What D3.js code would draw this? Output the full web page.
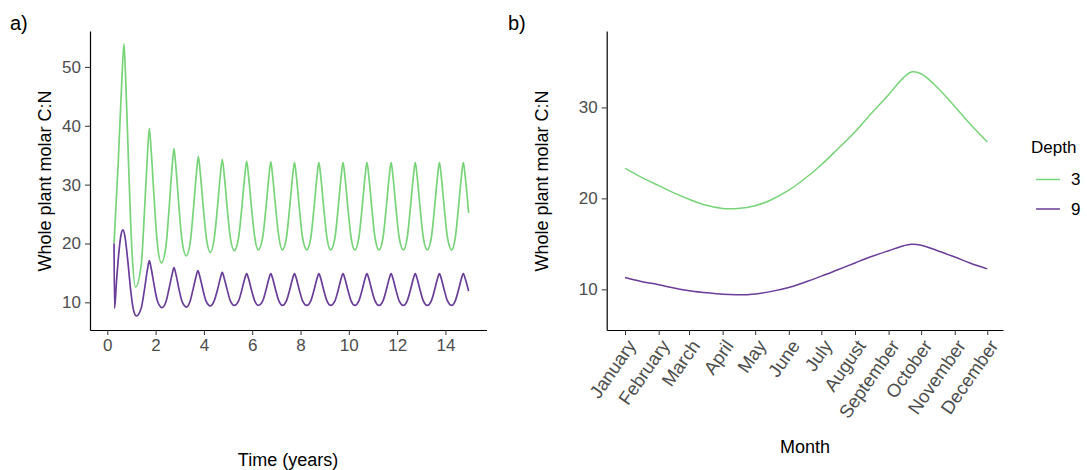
<!DOCTYPE html>
<html>
<head>
<meta charset="utf-8">
<style>
    body { margin: 0; background: #ffffff; }
    text { font-family: "Liberation Sans", Arial, sans-serif; }
    .tick text { fill: #4d4d4d; font-size: 17px; }
    .tick line { stroke: #333333; }
    .domain { stroke: #000000; stroke-width: 1.2px; }
</style>
</head>
<body>
<svg id="container" width="1087" height="470"></svg>

<script src="https://cdn.jsdelivr.net/npm/d3@7/dist/d3.min.js"></script>
<script>
    // panel a: time (years) vs whole plant C:N, [t, value]
    let depth3Years = [
        [0.28, 20.0], [0.45, 33.5], [0.60, 47.5], [0.69, 53.9], [0.77, 46.9], [0.89, 32.4], [1.02, 18.8], [1.17, 12.6],
        [1.41, 16.6], [1.54, 25.5], [1.66, 34.9], [1.74, 39.5], [1.82, 35.6], [1.94, 27.6], [2.07, 20.1], [2.24, 16.7],
        [2.43, 19.6], [2.56, 26.0], [2.68, 32.8], [2.76, 36.1], [2.84, 33.0], [2.96, 26.6], [3.09, 20.6], [3.27, 17.9],
        [3.44, 20.4], [3.57, 26.0], [3.69, 31.9], [3.77, 34.8], [3.85, 32.0], [3.97, 26.3], [4.10, 21.0], [4.27, 18.5],
        [4.43, 20.9], [4.56, 26.1], [4.68, 31.6], [4.76, 34.3], [4.84, 31.7], [4.96, 26.2], [5.09, 21.1], [5.26, 18.8],
        [5.44, 21.1], [5.57, 26.1], [5.69, 31.4], [5.77, 34.0], [5.85, 31.4], [5.97, 26.1], [6.10, 21.2], [6.25, 18.9],
        [6.44, 21.2], [6.57, 26.1], [6.69, 31.3], [6.77, 33.9], [6.85, 31.3], [6.97, 26.1], [7.10, 21.2], [7.25, 18.9],
        [7.42, 21.1], [7.55, 26.1], [7.67, 31.3], [7.75, 33.8], [7.83, 31.3], [7.95, 26.1], [8.08, 21.1], [8.26, 18.9],
        [8.43, 21.1], [8.56, 26.1], [8.68, 31.3], [8.76, 33.8], [8.84, 31.3], [8.96, 26.1], [9.09, 21.1], [9.25, 18.9],
        [9.43, 21.1], [9.56, 26.1], [9.68, 31.3], [9.76, 33.8], [9.84, 31.3], [9.96, 26.1], [10.09, 21.1], [10.25, 18.9],
        [10.42, 21.1], [10.55, 26.1], [10.67, 31.3], [10.75, 33.8], [10.83, 31.3], [10.95, 26.1], [11.08, 21.1], [11.25, 18.9],
        [11.42, 21.1], [11.55, 26.1], [11.67, 31.3], [11.75, 33.8], [11.83, 31.3], [11.95, 26.1], [12.08, 21.1], [12.26, 18.9],
        [12.42, 21.1], [12.55, 26.1], [12.67, 31.3], [12.75, 33.8], [12.83, 31.3], [12.95, 26.1], [13.08, 21.1], [13.25, 18.9],
        [13.42, 21.1], [13.55, 26.1], [13.67, 31.3], [13.75, 33.8], [13.83, 31.3], [13.95, 26.1], [14.08, 21.1], [14.26, 18.9],
        [14.41, 21.1], [14.54, 26.1], [14.66, 31.3], [14.74, 33.8], [14.82, 31.3], [14.96, 25.2]
    ]
    let depth9Years = [
        [0.28, 20.0], [0.30, 9.0], [0.38, 13.5], [0.48, 18.5], [0.57, 21.5], [0.65, 22.3], [0.73, 21.2], [0.85, 17.0], [0.97, 12.0], [1.07, 9.0], [1.20, 7.7],
        [1.41, 9.1], [1.54, 12.2], [1.66, 15.5], [1.74, 17.1], [1.82, 15.7], [1.94, 12.9], [2.07, 10.3], [2.26, 9.1],
        [2.43, 10.1], [2.56, 12.4], [2.68, 14.7], [2.76, 15.9], [2.84, 14.8], [2.96, 12.4], [3.09, 10.2], [3.28, 9.2],
        [3.42, 10.1], [3.55, 12.2], [3.67, 14.3], [3.75, 15.4], [3.83, 14.4], [3.95, 12.3], [4.08, 10.3], [4.27, 9.4],
        [4.43, 10.3], [4.56, 12.1], [4.68, 14.1], [4.76, 15.1], [4.84, 14.1], [4.96, 12.2], [5.09, 10.3], [5.26, 9.5],
        [5.44, 10.3], [5.57, 12.1], [5.69, 14.0], [5.77, 14.9], [5.85, 14.0], [5.97, 12.1], [6.10, 10.3], [6.25, 9.5],
        [6.44, 10.3], [6.57, 12.1], [6.69, 14.0], [6.77, 14.9], [6.85, 14.0], [6.97, 12.1], [7.10, 10.3], [7.25, 9.5],
        [7.42, 10.3], [7.55, 12.1], [7.67, 14.0], [7.75, 14.9], [7.83, 14.0], [7.95, 12.1], [8.08, 10.3], [8.26, 9.5],
        [8.43, 10.3], [8.56, 12.1], [8.68, 14.0], [8.76, 14.9], [8.84, 14.0], [8.96, 12.1], [9.09, 10.3], [9.25, 9.5],
        [9.43, 10.3], [9.56, 12.1], [9.68, 14.0], [9.76, 14.9], [9.84, 14.0], [9.96, 12.1], [10.09, 10.3], [10.25, 9.5],
        [10.42, 10.3], [10.55, 12.1], [10.67, 14.0], [10.75, 14.9], [10.83, 14.0], [10.95, 12.1], [11.08, 10.3], [11.25, 9.5],
        [11.42, 10.3], [11.55, 12.1], [11.67, 14.0], [11.75, 14.9], [11.83, 14.0], [11.95, 12.1], [12.08, 10.3], [12.26, 9.5],
        [12.42, 10.3], [12.55, 12.1], [12.67, 14.0], [12.75, 14.9], [12.83, 14.0], [12.95, 12.1], [13.08, 10.3], [13.25, 9.5],
        [13.42, 10.3], [13.55, 12.1], [13.67, 14.0], [13.75, 14.9], [13.83, 14.0], [13.95, 12.1], [14.08, 10.3], [14.26, 9.5],
        [14.41, 10.3], [14.54, 12.1], [14.66, 14.0], [14.74, 14.9], [14.82, 14.0], [14.96, 11.9]
    ]
    let yearTicks = [0, 2, 4, 6, 8, 10, 12, 14]
    let cnTicksA = [10, 20, 30, 40, 50]

    // panel b: seasonal cycle, [date, value]
    let depth3Month = [
        ["2001-01-01", 23.3], ["2001-01-15", 22.4], ["2001-02-01", 21.4], ["2001-02-15", 20.6],
        ["2001-03-01", 19.9], ["2001-03-15", 19.3], ["2001-04-01", 18.9], ["2001-04-15", 18.9],
        ["2001-05-01", 19.2], ["2001-05-15", 19.8], ["2001-06-01", 20.9], ["2001-06-15", 22.1],
        ["2001-07-01", 23.7], ["2001-07-15", 25.3], ["2001-08-01", 27.3], ["2001-08-15", 29.2],
        ["2001-09-01", 31.4], ["2001-09-15", 33.3], ["2001-09-22", 33.9], ["2001-10-01", 33.7],
        ["2001-10-15", 32.3], ["2001-11-01", 30.1], ["2001-11-15", 28.2], ["2001-12-01", 26.2]
    ]
    let depth9Month = [
        ["2001-01-01", 11.3], ["2001-01-15", 10.9], ["2001-02-01", 10.5], ["2001-02-15", 10.15],
        ["2001-03-01", 9.85], ["2001-03-15", 9.65], ["2001-04-01", 9.45], ["2001-04-15", 9.4],
        ["2001-05-01", 9.5], ["2001-05-15", 9.75], ["2001-06-01", 10.2], ["2001-06-15", 10.75],
        ["2001-07-01", 11.45], ["2001-07-15", 12.1], ["2001-08-01", 12.9], ["2001-08-15", 13.55],
        ["2001-09-01", 14.25], ["2001-09-15", 14.8], ["2001-09-22", 14.95], ["2001-10-01", 14.85],
        ["2001-10-15", 14.3], ["2001-11-01", 13.55], ["2001-11-15", 12.9], ["2001-12-01", 12.25]
    ]
    let monthTicks = ["2001-01-01", "2001-02-01", "2001-03-01", "2001-04-01", "2001-05-01", "2001-06-01",
        "2001-07-01", "2001-08-01", "2001-09-01", "2001-10-01", "2001-11-01", "2001-12-01"]
    let cnTicksB = [10, 20, 30]

    let depths = ["3", "9"]
    let depthColors = ["#78d478", "#6a3d9a"]

    let svg = d3.select("#container")
    let parseDay = d3.timeParse("%Y-%m-%d")
    let color = d3.scaleOrdinal().domain(depths).range(depthColors)

    // ---------- panel a ----------
    let xA = d3.scaleLinear().domain([-0.716, 15.70]).range([90, 486.5])
    let yA = d3.scaleLinear().domain([5.3, 56.1]).range([330, 31])

    let gA = svg.append("g")
    gA.append("g")
        .attr("transform", "translate(0,330)")
        .call(d3.axisBottom(xA).tickValues(yearTicks).tickSize(5).tickSizeOuter(0).tickPadding(4))
    gA.append("g")
        .attr("transform", "translate(90,0)")
        .call(d3.axisLeft(yA).tickValues(cnTicksA).tickSize(5).tickSizeOuter(0).tickPadding(4))

    let lineA = d3.line()
        .x(d => xA(d[0]))
        .y(d => yA(d[1]))
        .curve(d3.curveMonotoneX)

    gA.selectAll(".lineA")
        .data([[depths[0], depth3Years], [depths[1], depth9Years]])
        .enter()
        .append("path")
        .attr("fill", "none")
        .attr("stroke", d => color(d[0]))
        .attr("stroke-width", 1.7)
        .attr("d", d => lineA(d[1]))

    svg.append("text").attr("x", 288).attr("y", 466)
        .attr("text-anchor", "middle").style("font-size", "18px")
        .text("Time (years)")
    svg.append("text").attr("transform", "translate(45,181) rotate(-90)")
        .attr("dy", "0.35em").attr("text-anchor", "middle").style("font-size", "18px")
        .text("Whole plant molar C:N")
    svg.append("text").attr("x", 10).attr("y", 30).style("font-size", "20px").text("a)")

    // ---------- panel b ----------
    let xB = d3.scaleTime()
        .domain([new Date(2000, 11, 15, 2), new Date(2001, 11, 15, 12)])
        .range([606.7, 1003])
    let yB = d3.scaleLinear().domain([5.53, 38.4]).range([330, 31])

    let gB = svg.append("g")
    let xAxisB = gB.append("g")
        .attr("transform", "translate(0,330)")
        .call(d3.axisBottom(xB).tickValues(monthTicks.map(parseDay))
            .tickFormat(d3.timeFormat("%B")).tickSize(5).tickSizeOuter(0))
    xAxisB.selectAll(".tick text")
        .style("font-size", "18.5px")
        .attr("text-anchor", "end")
        .attr("x", 0).attr("y", 0).attr("dy", "0.35em")
        .attr("transform", "translate(6,12) rotate(-55)")
    gB.append("g")
        .attr("transform", "translate(606.7,0)")
        .call(d3.axisLeft(yB).tickValues(cnTicksB).tickSize(5).tickSizeOuter(0).tickPadding(4))

    let lineB = d3.line()
        .x(d => xB(parseDay(d[0])))
        .y(d => yB(d[1]))
        .curve(d3.curveCatmullRom.alpha(0.5))

    gB.selectAll(".lineB")
        .data([[depths[0], depth3Month], [depths[1], depth9Month]])
        .enter()
        .append("path")
        .attr("fill", "none")
        .attr("stroke", d => color(d[0]))
        .attr("stroke-width", 1.5)
        .attr("d", d => lineB(d[1]))

    svg.append("text").attr("x", 805).attr("y", 453)
        .attr("text-anchor", "middle").style("font-size", "18px")
        .text("Month")
    svg.append("text").attr("transform", "translate(542,181) rotate(-90)")
        .attr("dy", "0.35em").attr("text-anchor", "middle").style("font-size", "18px")
        .text("Whole plant molar C:N")
    svg.append("text").attr("x", 508).attr("y", 30).style("font-size", "20px").text("b)")

    // legend
    let legend = svg.append("g").attr("transform", "translate(1031,0)")
    legend.append("text").attr("x", 0).attr("y", 153).style("font-size", "17px").text("Depth")
    let item = legend.selectAll(".item")
        .data(depths)
        .enter()
        .append("g")
        .attr("transform", (d, i) => "translate(0," + (179.5 + i * 29.5) + ")")
    item.append("line")
        .attr("x1", 5).attr("x2", 29)
        .attr("stroke", d => color(d)).attr("stroke-width", 1.5)
    item.append("text")
        .attr("x", 40).attr("dy", "0.35em").style("font-size", "17px")
        .text(d => d)
</script>
</body>
</html>
